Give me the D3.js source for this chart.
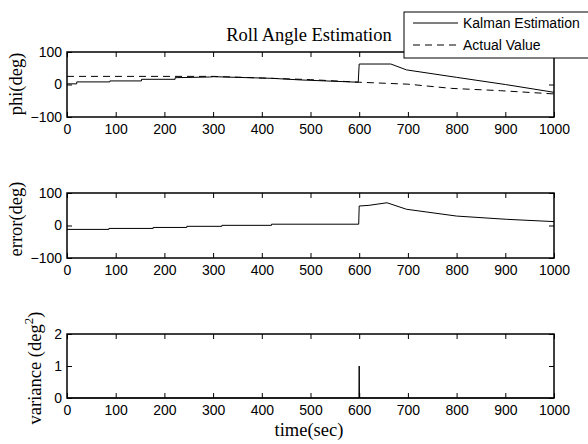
<!DOCTYPE html>
<html>
<head>
<meta charset="utf-8">
<script src="https://cdn.jsdelivr.net/npm/d3@7"></script>
<style>
  body { margin: 0; background: #fff; }
  .tick text { font-family: Arial, "Liberation Sans", sans-serif; font-size: 14px; fill: #000; }
  .lbl { font-family: "Times New Roman", "Liberation Serif", serif; font-size: 18.5px; fill: #000; }
</style>
</head>
<body>
<svg width="588" height="444"></svg>
<script>
// time ticks shared by all three panels
var timeTicks = [0, 100, 200, 300, 400, 500, 600, 700, 800, 900, 1000];

// phi(deg): Kalman estimate, [time, value]
var kalmanPhi = [[0, 2], [20, 2], [20, 8], [88, 8], [88, 11], [153, 11], [153, 16], [222, 16], [222, 21],
  [293, 23], [300, 24], [420, 19], [480, 14], [598, 7], [600, 63], [665, 63], [697, 45],
  [800, 22], [900, 0], [1000, -24]];
// phi(deg): actual value
var actualPhi = [[0, 25], [300, 25], [420, 19], [500, 15], [600, 7], [700, 1], [790, -12], [890, -19], [1000, -29]];

// error(deg)
var errorVals = [[0, -12], [86, -12], [86, -9], [177, -9], [177, -6], [246, -6], [246, -2.5], [318, -2.5],
  [318, 0.5], [420, 0.5], [420, 4], [599, 4], [600, 60], [620, 62], [657, 70], [697, 50], [800, 29], [903, 19], [1000, 12]];

// variance (deg^2)
var varianceVals = [[0, 0], [599.5, 0], [600, 1], [600.5, 0], [1000, 0]];

var phiTicks = [-100, 0, 100];
var varTicks = [0, 1, 2];

var svg = d3.select("svg"),
    left = 67, right = 554;

var x = d3.scaleLinear().domain([0, 1000]).range([left, right]);
var fmt = d3.format("d");

var panels = [
  {top: 52, bottom: 117, domain: [-100, 100], ticks: phiTicks, series: [{data: kalmanPhi}, {data: actualPhi, dash: "7,5"}]},
  {top: 193, bottom: 258, domain: [-100, 100], ticks: phiTicks, series: [{data: errorVals}]},
  {top: 334, bottom: 398, domain: [0, 2], ticks: varTicks, series: [{data: varianceVals}]}
];

panels.forEach(function(p) {
  var y = d3.scaleLinear().domain(p.domain).range([p.bottom, p.top]);
  var g = svg.append("g");

  var line = d3.line()
    .x(function(d) { return x(d[0]); })
    .y(function(d) { return y(d[1]); });

  p.series.forEach(function(s) {
    g.append("path")
      .datum(s.data)
      .attr("fill", "none")
      .attr("stroke", "#000")
      .attr("stroke-width", 1)
      .attr("stroke-dasharray", s.dash || null)
      .attr("d", line);
  });

  // axes, ticks pointing inward on all four sides
  g.append("g").attr("transform", "translate(0," + p.bottom + ")")
    .call(d3.axisBottom(x).tickValues(timeTicks).tickFormat(fmt).tickSize(-5).tickPadding(7).tickSizeOuter(0));
  g.append("g").attr("transform", "translate(0," + p.top + ")")
    .call(d3.axisTop(x).tickValues(timeTicks).tickSize(-5).tickFormat("").tickSizeOuter(0));
  g.append("g").attr("transform", "translate(" + left + ",0)")
    .call(d3.axisLeft(y).tickValues(p.ticks).tickFormat(fmt).tickSize(-5).tickPadding(5).tickSizeOuter(0));
  g.append("g").attr("transform", "translate(" + right + ",0)")
    .call(d3.axisRight(y).tickValues(p.ticks).tickSize(-5).tickFormat("").tickSizeOuter(0));

  g.selectAll(".domain").remove();
  g.selectAll(".tick line").attr("stroke", "#000");

  g.append("rect")
    .attr("x", left).attr("y", p.top)
    .attr("width", right - left).attr("height", p.bottom - p.top)
    .attr("fill", "none").attr("stroke", "#000").attr("stroke-width", 1.5);
});

// titles and labels
svg.append("text").attr("class", "lbl")
  .attr("x", 309).attr("y", 40.5).attr("text-anchor", "middle")
  .text("Roll Angle Estimation");

svg.append("text").attr("class", "lbl")
  .attr("transform", "translate(22,84) rotate(-90)").attr("text-anchor", "middle")
  .text("phi(deg)");

svg.append("text").attr("class", "lbl")
  .attr("transform", "translate(22,219) rotate(-90)").attr("text-anchor", "middle")
  .text("error(deg)");

var vl = svg.append("text").attr("class", "lbl")
  .attr("transform", "translate(41,368) rotate(-90)").attr("text-anchor", "middle");
vl.append("tspan").text("variance (deg");
vl.append("tspan").attr("dy", -8).attr("font-size", "13px").text("2");
vl.append("tspan").attr("dy", 8).text(")");

svg.append("text").attr("class", "lbl")
  .attr("x", 309).attr("y", 436).attr("text-anchor", "middle")
  .text("time(sec)");

// legend
var legend = svg.append("g");
legend.append("rect")
  .attr("x", 404).attr("y", 12).attr("width", 200).attr("height", 46)
  .attr("fill", "#fff").attr("stroke", "#000").attr("stroke-width", 1);

var legendItems = [{name: "Kalman Estimation", dash: null}, {name: "Actual Value", dash: "7,5"}];
legendItems.forEach(function(d, i) {
  var yy = 23 + i * 22;
  legend.append("line")
    .attr("x1", 413).attr("x2", 458).attr("y1", yy).attr("y2", yy)
    .attr("stroke", "#000").attr("stroke-width", 1)
    .attr("stroke-dasharray", d.dash);
  legend.append("text")
    .attr("x", 463).attr("y", yy + 5)
    .style("font-family", "Arial, 'Liberation Sans', sans-serif")
    .style("font-size", "14px")
    .text(d.name);
});
</script>
</body>
</html>
